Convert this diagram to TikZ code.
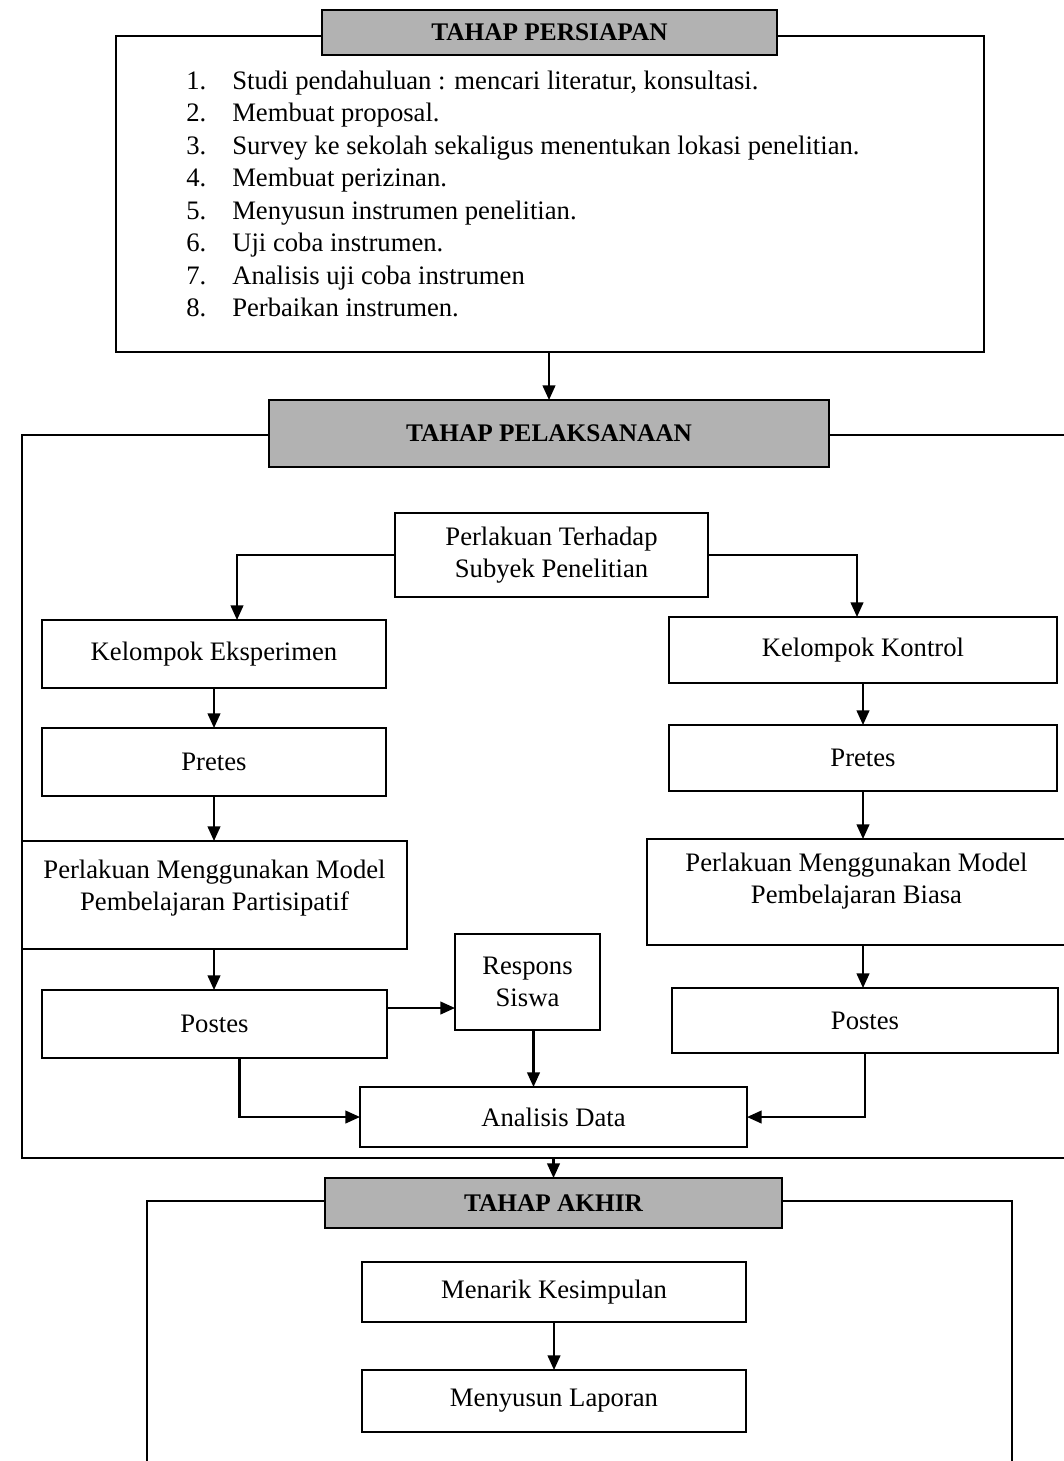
\documentclass[tikz,border=0pt]{standalone}
\usepackage{fontspec}
\setmainfont{Liberation Serif}
\usetikzlibrary{arrows.meta,calc}

\begin{document}
\begin{tikzpicture}[x=0.75pt,y=0.75pt,yscale=-1,xscale=1,
  bingkai/.style={draw,line width=1.6pt,rectangle,inner sep=0pt,outer sep=0pt},
  kotak/.style={draw,line width=1.6pt,rectangle,inner sep=0pt,outer sep=0pt,align=center,font=\fontsize{20}{24}\selectfont},
  judul/.style={draw,line width=1.8pt,fill=gray!60,inner sep=0pt,outer sep=0pt,font=\bfseries\fontsize{19}{22}\selectfont},
  panah/.style={line width=1.6pt,-{Triangle[length=11pt,width=9.5pt]}}]
\useasboundingbox (0,0) rectangle (1064,1461);

%Shape: Frame [tahap persiapan]
\node[bingkai,minimum width=651pt,minimum height=237pt] (persiapan) at (550,194) {};
%Shape: Frame [tahap pelaksanaan]
\node[bingkai,minimum width=808.5pt,minimum height=542.25pt] (pelaksanaan) at (561,796.5) {};
%Shape: Frame [tahap akhir]
\node[bingkai,minimum width=648.75pt,minimum height=254.25pt] (akhir) at (579.5,1370.5) {};

%Shape: Header boxes
\node[judul,minimum width=341.25pt,minimum height=33.75pt] (hdrA) at (549.5,32.5) {TAHAP PERSIAPAN};
\node[judul,minimum width=420pt,minimum height=50.25pt] (hdrB) at (549,433.5) {TAHAP PELAKSANAAN};
\node[judul,minimum width=342.75pt,minimum height=37.5pt] (hdrC) at (553.5,1203) {TAHAP AKHIR};

%Text: daftar langkah persiapan
\node[anchor=north west,inner sep=0pt,font=\fontsize{20}{24.4}\selectfont] (langkah) at (186,66) {%
\begin{tabular}{@{}p{34.5pt}@{}l@{}}
1. & Studi pendahuluan : mencari literatur, konsultasi.\\
2. & Membuat proposal.\\
3. & Survey ke sekolah sekaligus menentukan lokasi penelitian.\\
4. & Membuat perizinan.\\
5. & Menyusun instrumen penelitian.\\
6. & Uji coba instrumen.\\
7. & Analisis uji coba instrumen\\
8. & Perbaikan instrumen.
\end{tabular}};

%Shape: Boxes pelaksanaan
\node[kotak,minimum width=234.75pt,minimum height=63pt] (subyek) at (551.5,555) {Perlakuan Terhadap\\Subyek Penelitian};
\node[kotak,minimum width=258pt,minimum height=51pt] (eksp) at (214,654) {Kelompok Eksperimen};
\node[kotak,minimum width=258pt,minimum height=51pt] (pretesA) at (214,762) {Pretes};
\node[kotak,minimum width=288.75pt,minimum height=81pt] (perlakuanA) at (214.5,895) {Perlakuan Menggunakan Model\\Pembelajaran Partisipatif\\[-9pt]};
\node[kotak,minimum width=258.75pt,minimum height=51pt] (postesA) at (214.5,1024) {Postes};
\node[kotak,minimum width=108.75pt,minimum height=72pt] (respons) at (527.5,982) {Respons\\Siswa};
\node[kotak,minimum width=290.25pt,minimum height=45pt] (analisis) at (553.5,1117) {Analisis Data};
\node[kotak,minimum width=291pt,minimum height=49.5pt] (kontrol) at (863,650) {Kelompok Kontrol};
\node[kotak,minimum width=291pt,minimum height=49.5pt] (pretesB) at (863,758) {Pretes};
\node[kotak,minimum width=314.25pt,minimum height=79.5pt] (perlakuanB) at (856.5,892) {Perlakuan Menggunakan Model\\Pembelajaran Biasa\\[-3pt]};
\node[kotak,minimum width=289.5pt,minimum height=48.75pt] (postesB) at (865,1020.5) {Postes};

%Shape: Boxes akhir
\node[kotak,minimum width=288pt,minimum height=45pt] (kesimpulan) at (554,1292) {Menarik Kesimpulan};
\node[kotak,minimum width=288pt,minimum height=46.5pt] (laporan) at (554,1401) {Menyusun Laporan};

%Arrows
\draw[panah] (persiapan.south -| hdrB.north) -- (hdrB.north);
\draw[panah] (subyek.west) -| ($(eksp.north)+(23,0)$);
\draw[panah] (subyek.east) -| ($(kontrol.north)+(-6,0)$);
\draw[panah] (eksp) -- (pretesA);
\draw[panah] (pretesA) -- (pretesA |- perlakuanA.north);
\draw[panah] (perlakuanA.south -| pretesA.south) -- (pretesA.south |- postesA.north);
\draw[panah] (kontrol) -- (pretesB);
\draw[panah] (pretesB) -- (pretesB |- perlakuanB.north);
\draw[panah] (perlakuanB.south -| pretesB.south) -- (pretesB.south |- postesB.north);
\draw[panah] ($(postesA.east)+(0,-16)$) coordinate (pa) -- (pa -| respons.west);
\draw[panah] ($(respons.south)+(6,0)$) coordinate (rs) -- (rs |- analisis.north);
\draw[panah] ($(postesA.south)+(25,0)$) |- (analisis.west);
\draw[panah] (postesB.south) |- (analisis.east);
\draw[panah] (hdrC.north |- pelaksanaan.south) -- (hdrC.north);
\draw[panah] (kesimpulan) -- (laporan);

\end{tikzpicture}
\end{document}
